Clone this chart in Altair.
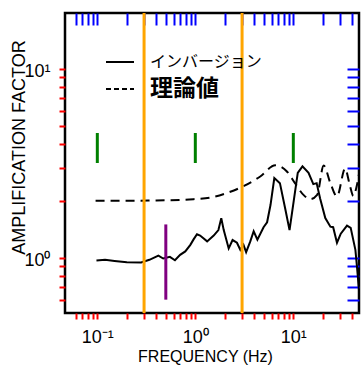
import altair as alt
import pandas as pd

# ---- data ----
inv_freq = [0.098, 0.12, 0.15, 0.2, 0.28, 0.34, 0.42, 0.47, 0.55, 0.62, 0.7, 0.79, 0.89, 0.96,
            1.04, 1.12, 1.32, 1.54, 1.72, 1.84, 1.95, 2.19, 2.4, 2.66, 2.88, 3.1, 3.3, 3.64, 3.94,
            4.3, 4.97, 5.4, 5.85, 6.4, 7.3, 8.3, 9.15, 10.1, 11.1, 12.4, 14.3, 16.0, 17.3, 18.8,
            21.2, 23.9, 25.5, 27.9, 30.5, 35.3, 38.5, 43.0, 44.6, 46.3, 47.0]
inv_amp = [0.967, 0.975, 0.962, 0.945, 0.944, 0.975, 1.025, 0.99, 1.01, 0.97, 1.035, 1.08, 1.17, 1.25,
           1.33, 1.31, 1.22, 1.31, 1.40, 1.62, 1.40, 1.12, 1.24, 1.20, 1.10, 1.17, 1.07, 1.22, 1.38,
           1.245, 1.45, 1.54, 1.9, 2.64, 2.48, 1.8, 1.40, 2.0, 2.81, 3.04, 2.81, 2.45, 2.48, 2.05,
           1.62, 1.46, 1.45, 1.20, 1.34, 1.48, 1.44, 1.10, 0.90, 0.72, 0.66]

theo_freq = [0.096, 0.2, 0.4, 0.7, 0.96, 1.42, 2.1, 3.1, 4.6, 6.55, 8.6, 10.4, 12.7, 14.9, 17.5,
             20.4, 23.9, 27.9, 33.8, 37.5, 41.0, 44.0, 47.0]
theo_amp = [2.0, 2.0, 2.01, 2.02, 2.04, 2.08, 2.2, 2.39, 2.69, 3.08, 2.86, 2.48, 2.15, 2.04, 2.15,
            3.07, 2.48, 2.11, 2.96, 2.45, 2.12, 2.35, 2.8]

legend_labels = ["インバージョン", "理論値"]

x_domain = [0.0468, 46.8]
y_domain = [0.51, 19.7]
x_major = [0.1, 1, 10]
x_minor = [0.06, 0.07, 0.08, 0.09, 0.2, 0.3, 0.4, 0.5, 0.6, 0.7, 0.8, 0.9,
           2, 3, 4, 5, 6, 7, 8, 9, 20, 30, 40]
y_major = [1, 10]
y_minor = [0.6, 0.7, 0.8, 0.9, 2, 3, 4, 5, 6, 7, 8, 9]
x_tick_labels = ["10\u207b\u00b9", "10\u2070", "10\u00b9"]
y_tick_labels = ["10\u2070", "10\u00b9"]

x_title = "FREQUENCY (Hz)"
y_title = "AMPLIFICATION FACTOR"

W, H = 294, 300
LBL = "Liberation Sans"
CJK = "Noto Sans CJK JP"

inv_df = pd.DataFrame({"f": inv_freq, "a": inv_amp, "s": legend_labels[0]})
theo_df = pd.DataFrame({"f": theo_freq, "a": theo_amp, "s": legend_labels[1]})

xs = alt.Scale(type="log", domain=x_domain, nice=False)
ys = alt.Scale(type="log", domain=y_domain, nice=False)

x_label_expr = ("datum.value == 0.1 ? '%s' : datum.value == 1 ? '%s' : datum.value == 10 ? '%s' : ''"
                % tuple(x_tick_labels))
y_label_expr = "datum.value == 1 ? '%s' : datum.value == 10 ? '%s' : ''" % tuple(y_tick_labels)

common = dict(grid=False, labelFlush=False, labelOverlap=False, domain=False, ticks=True, tickWidth=2)

# TEST A: positive constant tick size (outward), red
ax_x_bottom = alt.Axis(orient="bottom", values=x_major + x_minor, labelExpr=x_label_expr,
                       tickSize=6, tickColor="red",
                       labelFont=LBL, labelFontSize=18, labelColor="black", labelAlign="center",
                       labelBaseline="alphabetic", labelPadding=23,
                       title=x_title, titleFont=LBL, titleFontSize=16, titleFontWeight="normal",
                       titleColor="black", titleX=140, titleY=48, titleBaseline="alphabetic",
                       titleAlign="center", **common)
# TEST B: negative constant expr size, blue
ax_x_top = alt.Axis(orient="top", values=x_major + x_minor, labels=False,
                    tickSize={"expr": "-12"}, tickColor="blue", title=None, **common)
ax_y_left = alt.Axis(orient="left", values=y_major + y_minor, labelExpr=y_label_expr,
                     tickSize=6, tickColor="red",
                     labelFont=LBL, labelFontSize=18, labelColor="black", labelAlign="right",
                     labelBaseline="alphabetic", labelPadding=9, labelOffset=8,
                     title=y_title, titleFont=LBL, titleFontSize=18, titleFontWeight="normal",
                     titleColor="black", titleAngle=270, titleX=-41, titleY=134,
                     titleBaseline="alphabetic", titleAlign="center", **common)
ax_y_right = alt.Axis(orient="right", values=y_major + y_minor, labels=False,
                      tickSize={"expr": "-12"}, tickColor="blue", title=None, **common)

leg1 = alt.Legend(title=None, orient="none", legendX=40, legendY=34, symbolType="stroke",
                  symbolSize=784, symbolStrokeWidth=2, labelFont=CJK, labelFontSize=16,
                  labelColor="black", labelOffset=15, padding=0)
leg2 = alt.Legend(title=None, orient="none", legendX=40, legendY=61, symbolType="stroke",
                  symbolSize=784, symbolStrokeWidth=2, symbolDash=[5, 3], labelFont=CJK,
                  labelFontSize=23, labelFontWeight="bold", labelColor="black", labelOffset=15,
                  padding=0)

l1 = alt.Chart(inv_df).mark_line(strokeWidth=2, clip=True).encode(
    x=alt.X("f:Q", scale=xs, axis=ax_x_bottom),
    y=alt.Y("a:Q", scale=ys, axis=ax_y_left),
    color=alt.Color("s:N", scale=alt.Scale(domain=[legend_labels[0]], range=["black"]), legend=leg1),
)
l2 = alt.Chart(theo_df).mark_line(strokeWidth=2, strokeDash=[9, 6], interpolate="monotone",
                                  clip=True).encode(
    x=alt.X("f:Q", scale=xs, axis=ax_x_top),
    y=alt.Y("a:Q", scale=ys, axis=ax_y_right),
    color=alt.Color("s:N", scale=alt.Scale(domain=[legend_labels[1]], range=["black"]), legend=leg2),
)

# TEST C: rules with pixel y (green)
tc = alt.Chart(pd.DataFrame({"v": x_major})).mark_rule(color="green", strokeWidth=3).encode(
    x=alt.X("v:Q", scale=xs, axis=None),
    y=alt.value(120), y2=alt.value(150),
)
# TEST D: rules spanning full height via datum (orange)
td = alt.Chart(pd.DataFrame({"v": [0.3, 3]})).mark_rule(color="orange", strokeWidth=3).encode(
    x=alt.X("v:Q", scale=xs, axis=None),
    y=alt.YDatum(y_domain[0], type="quantitative", scale=ys, axis=None),
    y2=alt.Y2Datum(y_domain[1]),
)
# TEST E: line mark (purple) through two points at x=0.5
te = alt.Chart(pd.DataFrame({"v": [0.5, 0.5], "w": [0.6, 1.5]})).mark_line(
    color="purple", strokeWidth=3).encode(
    x=alt.X("v:Q", scale=xs, axis=None),
    y=alt.Y("w:Q", scale=ys, axis=None),
)

chart = alt.layer(l1, l2, tc, td, te).resolve_scale(color="independent").resolve_axis(
    x="independent", y="independent"
).properties(
    width=W, height=H, autosize="none", background="white",
    padding={"left": 65, "top": 13, "right": 2, "bottom": 53},
).configure_view(stroke="black", strokeWidth=2.5)

chart.save("out.html", embed_options={"renderer": "svg", "actions": False})
